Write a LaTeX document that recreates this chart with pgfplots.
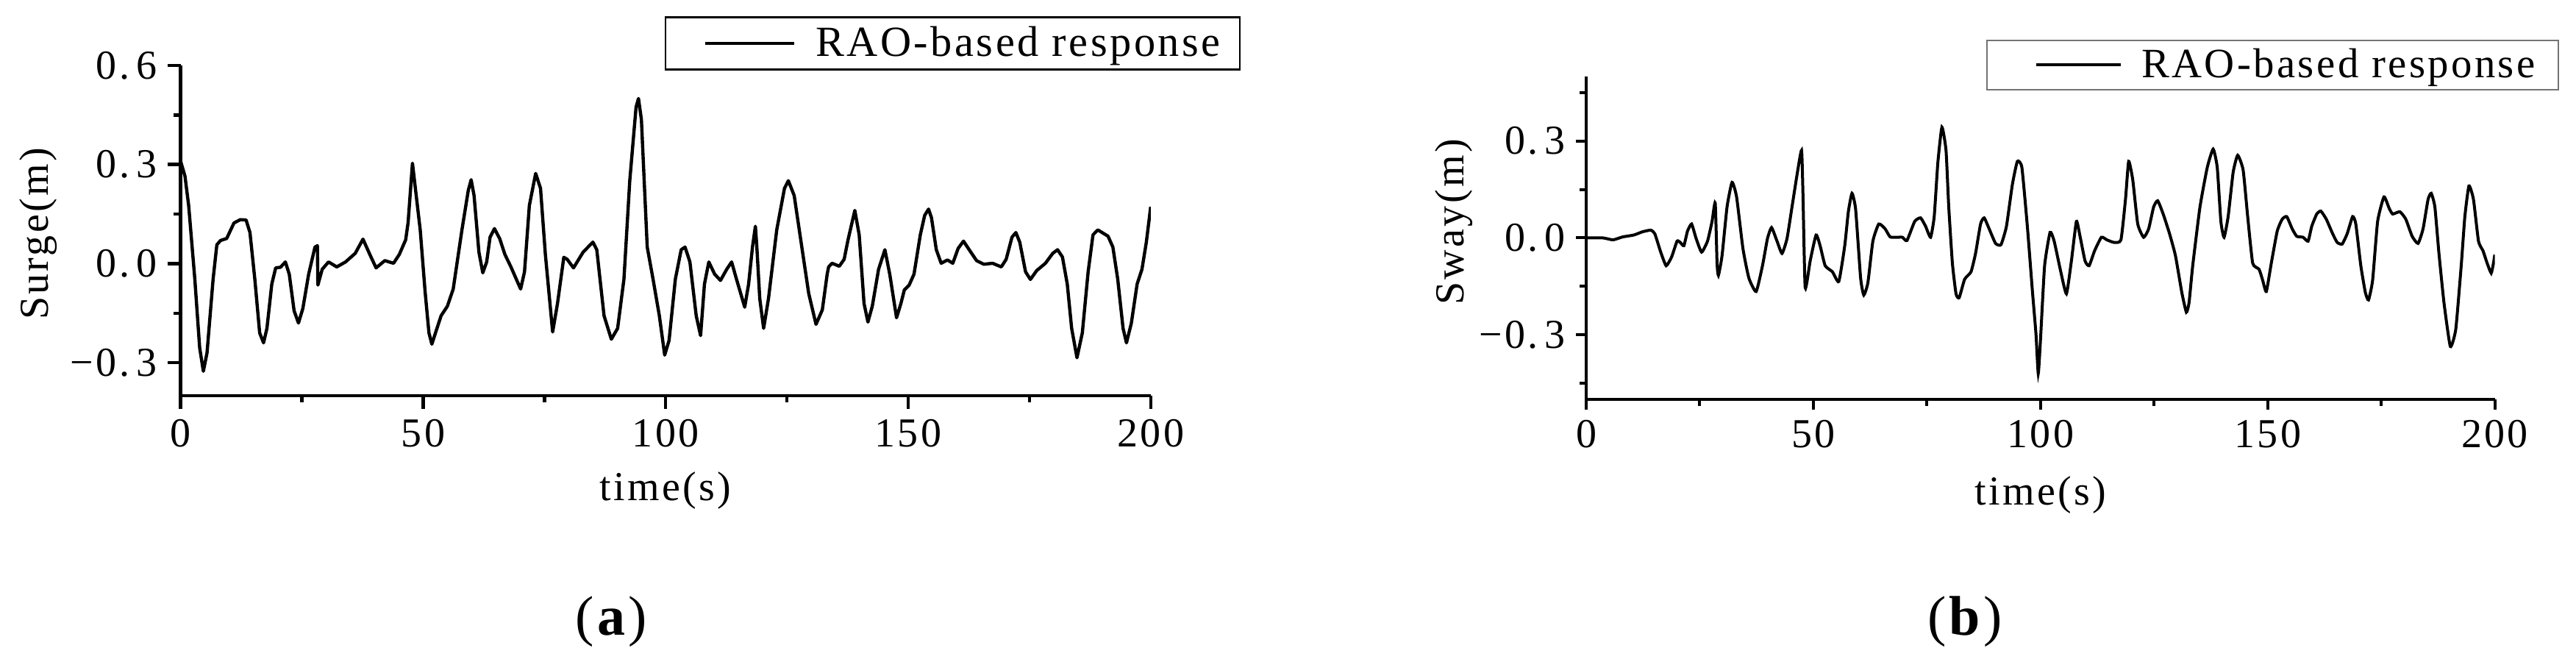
\documentclass[border=0pt]{standalone}
\usepackage{pgfplots}
\pgfplotsset{compat=1.18}
\usepackage{fontspec}
\setmainfont{Liberation Serif}[LetterSpace=6]

\pgfplotstableread{
t v
0 0.31
0.9 0.265
1.66 0.176
2.93 -0.047
3.93 -0.255
4.69 -0.326
5.45 -0.27
6.7 -0.047
7.47 0.057
8.23 0.07
9.5 0.076
11.0 0.123
12.3 0.133
13.5 0.132
14.3 0.094
15.3 -0.047
16.3 -0.21
17.1 -0.24
17.8 -0.196
18.8 -0.062
19.6 -0.013
20.6 -0.011
21.6 0.005
22.4 -0.032
23.4 -0.143
24.3 -0.18
25.2 -0.136
26.4 -0.032
27.7 0.05
28.2 0.054
28.3 -0.065
29.2 -0.017
30.5 0.005
32.2 -0.01
34.0 0.005
36.0 0.031
37.6 0.074
39.0 0.028
40.3 -0.013
42.1 0.009
43.9 0.001
45.1 0.028
46.4 0.072
46.9 0.124
47.8 0.304
48.4 0.228
49.4 0.102
50.4 -0.084
51.2 -0.21
51.8 -0.244
52.7 -0.203
53.7 -0.158
55.0 -0.129
56.2 -0.077
58.0 0.102
59.3 0.221
59.9 0.254
60.5 0.206
61.5 0.035
62.3 -0.028
63.1 0.005
63.8 0.08
64.7 0.106
65.8 0.075
66.85 0.028
68.1 -0.01
70.1 -0.077
70.9 -0.025
71.9 0.176
73.2 0.273
74.2 0.228
75.2 0.028
76.7 -0.207
77.7 -0.121
79.0 0.019
79.7 0.013
81.0 -0.013
83.0 0.035
85.0 0.065
85.8 0.042
87.3 -0.158
88.8 -0.229
90.1 -0.196
91.4 -0.047
92.6 0.251
93.9 0.474
94.4 0.5
95.0 0.436
96.2 0.05
97.4 -0.047
98.7 -0.158
99.8 -0.277
100.7 -0.233
102.0 -0.047
103.2 0.042
104.0 0.05
105.0 0.005
106.3 -0.158
107.2 -0.218
108.0 -0.062
108.9 0.005
110.1 -0.032
111.3 -0.051
112.6 -0.017
113.6 0.005
114.6 -0.047
116.3 -0.132
117.1 -0.062
117.9 0.05
118.5 0.113
118.8 0.05
119.4 -0.106
120.2 -0.196
121.2 -0.106
122.9 0.102
124.5 0.228
125.3 0.251
126.5 0.206
128.0 0.057
129.5 -0.091
131.0 -0.184
132.3 -0.14
133.3 -0.032
133.6 -0.01
134.3 0.001
135.8 -0.008
136.8 0.013
137.6 0.072
139.0 0.161
139.9 0.087
140.9 -0.121
141.7 -0.177
142.6 -0.129
143.9 -0.017
145.2 0.042
146.2 -0.032
147.6 -0.164
148.5 -0.121
149.2 -0.08
150.2 -0.065
151.2 -0.032
152.5 0.087
153.4 0.146
154.2 0.165
154.8 0.139
155.8 0.042
156.8 0.001
158.1 0.011
159.2 0.001
160.3 0.046
161.4 0.068
162.9 0.035
164.1 0.009
165.6 -0.002
167.4 0.001
169.2 -0.01
170.2 0.013
171.4 0.08
172.2 0.094
173.0 0.065
174.2 -0.025
175.2 -0.048
176.5 -0.021
178.3 0.001
179.8 0.031
180.8 0.042
181.8 0.02
182.8 -0.062
183.7 -0.196
184.8 -0.285
185.9 -0.21
187.1 -0.025
188.1 0.087
189.1 0.102
191.2 0.083
192.2 0.05
193.2 -0.047
194.3 -0.196
195.0 -0.24
196.0 -0.181
197.2 -0.062
198.2 -0.017
199.1 0.065
200.0 0.172
}\surge

\pgfplotstableread{
t v
0 0
3.7 0
5.9 -0.006
8.0 0.003
10.5 0.009
12.4 0.019
14.2 0.024
15.1 0.013
16.4 -0.044
17.6 -0.086
18.8 -0.059
20.0 -0.01
20.7 -0.014
21.5 -0.024
22.3 0.021
23.2 0.043
24.2 -0.002
25.4 -0.044
26.7 -0.01
27.7 0.051
28.4 0.108
28.8 -0.078
29.1 -0.116
29.9 -0.055
31.0 0.096
32.1 0.172
33.1 0.127
34.5 -0.033
35.8 -0.124
37.4 -0.166
38.8 -0.086
39.9 -0.002
40.8 0.032
42.0 -0.01
43.1 -0.048
44.2 -0.002
45.3 0.096
46.4 0.195
47.4 0.271
47.7 0.142
48.2 -0.154
49.3 -0.071
50.6 0.009
51.5 -0.025
52.6 -0.086
54.2 -0.105
55.6 -0.135
56.9 -0.025
57.7 0.081
58.5 0.138
59.3 0.089
60.4 -0.124
61.1 -0.177
62.0 -0.139
63.1 -0.01
64.4 0.043
65.8 0.028
66.9 0.003
68.5 0.002
69.6 0.002
70.6 -0.008
72.3 0.051
73.6 0.062
74.7 0.036
75.8 0.002
76.6 0.066
77.4 0.233
78.3 0.343
79.2 0.271
79.8 0.096
80.6 -0.078
81.4 -0.173
82.1 -0.185
83.3 -0.128
84.7 -0.105
85.7 -0.048
86.8 0.043
87.6 0.062
88.7 0.028
90.1 -0.017
91.3 -0.021
92.5 0.036
93.8 0.165
94.9 0.237
95.9 0.218
97.1 0.036
98.2 -0.162
99.0 -0.298
99.5 -0.42
100.0 -0.314
100.9 -0.086
102.1 0.017
103.0 -0.01
104.4 -0.101
105.7 -0.173
106.8 -0.071
107.9 0.051
108.7 0.005
109.8 -0.071
110.7 -0.086
111.9 -0.04
113.4 0.002
114.6 -0.006
116.2 -0.014
117.7 -0.006
118.7 0.119
119.4 0.237
120.3 0.18
121.4 0.043
122.7 0.002
123.8 0.028
124.9 0.096
125.8 0.115
127.0 0.074
128.4 0.013
129.7 -0.055
131.1 -0.169
132.1 -0.23
132.7 -0.2
133.5 -0.086
135.1 0.096
136.7 0.218
138.0 0.275
138.9 0.218
139.7 0.051
140.4 0.002
141.3 0.066
142.4 0.203
143.4 0.256
144.6 0.21
145.6 0.066
146.7 -0.078
148.1 -0.097
148.9 -0.131
149.7 -0.166
150.8 -0.078
152.1 0.021
153.2 0.058
154.2 0.066
155.4 0.028
156.4 0.005
157.8 0.002
158.9 -0.01
159.7 0.036
160.8 0.074
161.7 0.083
162.9 0.058
164.3 0.013
165.3 -0.014
166.4 -0.019
167.5 0.013
168.7 0.066
169.4 0.043
170.5 -0.086
171.5 -0.169
172.2 -0.192
173.1 -0.131
174.2 0.051
175.6 0.127
176.7 0.093
177.5 0.074
179.1 0.081
180.4 0.058
181.8 0.005
183.1 -0.017
184.2 0.028
185.3 0.119
186.0 0.138
186.8 0.096
187.7 -0.048
188.8 -0.2
190.2 -0.336
191.4 -0.283
192.6 -0.086
193.4 0.066
194.3 0.161
195.3 0.119
196.4 -0.01
197.4 -0.04
198.3 -0.078
199.2 -0.109
199.7 -0.078
200.0 -0.052
}\sway

\newcommand{\tickfont}{\fontsize{14}{16}\selectfont}
\newcommand{\labfont}{\fontsize{14}{16}\selectfont}

\pgfplotsset{
  common/.style={
    scale only axis,
    xmin=0, xmax=200,
    axis x line*=bottom, axis y line*=left,
    axis line style={-, line width=1.1pt},
    tick align=outside,
    tick style={black, line width=1.1pt},
    xtick={0,50,100,150,200},
    xticklabels={0,50,100,150,200},
    minor xtick={25,75,125,175},
    ticklabel style={font=\tickfont},
    legend cell align=left,
    legend style={fill=white,
      inner sep=0pt, column sep=0pt, nodes={inner sep=0pt}},
  },
}

\begin{document}
\begin{tikzpicture}
\path (0pt,0pt) rectangle (875.75pt,224pt);

\begin{axis}[common,
  at={(61.4pt,89.5pt)}, anchor=south west,
  width=329.8pt, height=112.25pt,
  ymin=-0.4, ymax=0.6,
  ytick={-0.3,0,0.3,0.6},
  yticklabels={−0.\,3,0.\,0,0.\,3,0.\,6},
  minor ytick={-0.15,0.15,0.45},
  major tick length=4.5pt, minor tick length=2.3pt,
  xlabel={time(s)}, ylabel={Surge(m)},
  every axis x label/.style={at={(axis description cs:0.5,-0.2873)}, anchor=center, font=\labfont},
  every axis y label/.style={at={(axis description cs:-0.147,0.49)}, rotate=90, anchor=center, font=\labfont},
  legend style={at={(1.0926,1.149)}, anchor=north east, draw=black, line width=0.6pt,
    font=\fontsize{14.6}{17}\selectfont},
  legend image code/.code={
    \path[draw=none, fill=none] (-13.5pt,-8.875pt) rectangle (37.5pt,8.875pt);
    \draw[#1, line width=1.1pt] (0pt,0pt) -- (30.25pt,0pt);},
]
\addplot[black, line width=1.1pt, line join=round] table[x=t, y=v] {\surge};
\addlegendentry{RAO-based response\kern6.5pt}
\end{axis}

\begin{axis}[common,
  at={(539.25pt,88.25pt)}, anchor=south west,
  width=308.9pt, height=109.75pt,
  ymin=-0.5, ymax=0.5,
  ytick={-0.3,0,0.3},
  yticklabels={−0.\,3,0.\,0,0.\,3},
  minor ytick={-0.45,-0.15,0.15,0.45},
  axis line style={-, line width=1pt},
  tick style={black, line width=1pt},
  major tick length=3.5pt, minor tick length=2.2pt,
  xlabel={time(s)}, ylabel={Sway(m)},
  every axis x label/.style={at={(axis description cs:0.5,-0.2961)}, anchor=center, font=\labfont},
  every axis y label/.style={at={(axis description cs:-0.1457,0.549)}, rotate=90, anchor=center, font=\labfont},
  legend style={at={(1.0707,1.114)}, anchor=north east, draw=black!55, line width=0.5pt,
    font=\fontsize{14.2}{17}\selectfont},
  legend image code/.code={
    \path[draw=none, fill=none] (-16.75pt,-8.375pt) rectangle (35.75pt,8.375pt);
    \draw[#1, line width=1pt] (0pt,0pt) -- (28.75pt,0pt);},
]
\addplot[black, line width=1pt, smooth, tension=0.3] table[x=t, y=v] {\sway};
\addlegendentry{RAO-based response\kern7.8pt}
\end{axis}

\node[font=\fontsize{19}{22}\selectfont] at (207.75pt,12.75pt) {(\textbf{a})};
\node[font=\fontsize{19}{22}\selectfont] at (668pt,12.75pt) {(\textbf{b})};
\end{tikzpicture}
\end{document}
